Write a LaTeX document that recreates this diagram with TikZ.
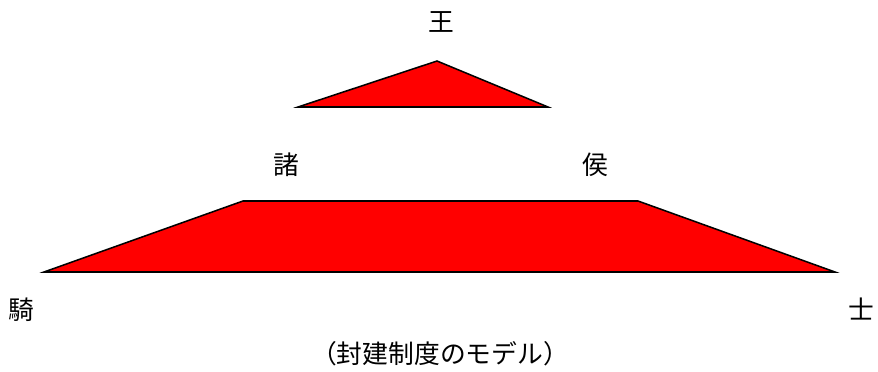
\documentclass[tikz,border=0pt]{standalone}
\usepackage{fontspec}
\setmainfont{Noto Sans CJK JP}
\begin{document}
\begin{tikzpicture}[x=0.03cm,y=-0.03cm,
  shapefill/.style={fill=red,draw=black,line width=1.3pt,line join=miter},
  lab/.style={inner sep=0pt,font=\fontsize{22}{26}\selectfont}]
\useasboundingbox (0,0) rectangle (878,372);
\coordinate (t1) at (437,61);
\coordinate (t2) at (548,107);
\coordinate (t3) at (298,107);
\draw[shapefill] (t1) -- (t2) -- (t3) -- cycle;
\coordinate (p1) at (243,201);
\coordinate (p2) at (638,201);
\coordinate (p3) at (835,272);
\coordinate (p4) at (44,272);
\draw[shapefill] (p1) -- (p2) -- (p3) -- (p4) -- cycle;
\node[lab] (king) at (441,22) {王};
\node[lab] (s1) at (286,165) {諸};
\node[lab] (s2) at (595,165) {侯};
\node[lab] (k1) at (21,310) {騎};
\node[lab] (k2) at (861,309) {士};
\node[lab] (cap) at (440,354) {（封建制度のモデル）};
\end{tikzpicture}
\end{document}
